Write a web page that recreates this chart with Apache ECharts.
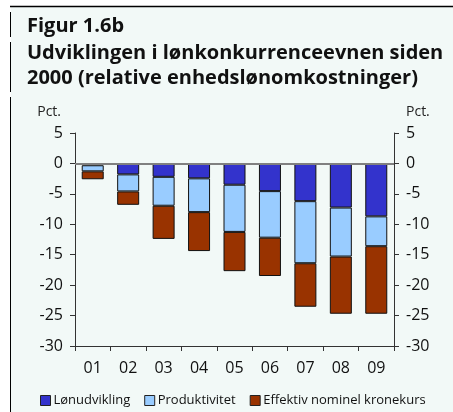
<!DOCTYPE html>
<html>
<head>
<meta charset="utf-8">
<script src="https://cdn.jsdelivr.net/npm/echarts@6/dist/echarts.min.js"></script>
<style>
  html, body { margin: 0; padding: 0; background: #fff; }
  #main { width: 453px; height: 412px; }
</style>
</head>
<body>
<div id="main"></div>
<script>
// years (x axis)
var years = ['01', '02', '03', '04', '05', '06', '07', '08', '09'];
// contributions, pct.
var loenudvikling = [-0.3, -1.8, -2.2, -2.45, -3.5, -4.55, -6.2, -7.25, -8.7];
var produktivitet = [-1.0, -2.8, -4.75, -5.55, -7.75, -7.65, -10.2, -8.05, -4.9];
var kronekurs = [-1.3, -2.2, -5.45, -6.4, -6.45, -6.3, -7.15, -9.4, -11.1];
var yTicks = { min: -30, max: 5, interval: 5 };

var font = '"Open Sans", "Noto Sans", sans-serif';
var chart = echarts.init(document.getElementById('main'));

function yAxis(pos) {
  return {
    type: 'value',
    position: pos,
    min: yTicks.min,
    max: yTicks.max,
    interval: yTicks.interval,
    name: 'Pct.',
    nameLocation: 'end',
    nameGap: 14,
    nameTextStyle: { fontFamily: font, fontSize: 14, color: '#222', align: pos == 'left' ? 'right' : 'left', padding: pos == 'left' ? [0, 14, 0, 0] : [0, 0, 0, 12] },
    axisLine: { show: true, lineStyle: { color: '#333', width: 1 } },
    axisTick: { show: true, length: 5, lineStyle: { color: '#333' } },
    axisLabel: { fontFamily: font, fontSize: 16, color: '#111', margin: 12 },
    splitLine: { show: false }
  };
}

function bar(name, data, color) {
  return {
    name: name,
    type: 'bar',
    stack: 'total',
    data: data,
    barWidth: 22,
    itemStyle: { color: color, borderColor: '#111', borderWidth: 1 }
  };
}

var series = [
  bar('Lønudvikling', loenudvikling, '#3333cc'),
  bar('Produktivitet', produktivitet, '#99ccff'),
  bar('Effektiv nominel kronekurs', kronekurs, '#993300')
];
series[0].markLine = {
  silent: true,
  symbol: 'none',
  label: { show: false },
  lineStyle: { color: '#808080', width: 2, type: 'solid' },
  data: [{ yAxis: 0 }]
};
series[0].z = 3;

chart.setOption({
  animation: false,
  backgroundColor: '#fff',
  graphic: [
    { type: 'rect', shape: { x: 11, y: 7, width: 442, height: 405 }, style: { fill: '#f2f9f7' }, silent: true, z: -10 },
    { type: 'line', shape: { x1: 10, y1: 6.5, x2: 453, y2: 6.5 }, style: { stroke: '#000', lineWidth: 1.5 } },
    { type: 'line', shape: { x1: 10.5, y1: 12, x2: 10.5, y2: 37 }, style: { stroke: '#000', lineWidth: 1 } },
    { type: 'line', shape: { x1: 10.5, y1: 42, x2: 10.5, y2: 92 }, style: { stroke: '#000', lineWidth: 1 } },
    { type: 'line', shape: { x1: 10.5, y1: 97, x2: 10.5, y2: 412 }, style: { stroke: '#000', lineWidth: 1 } }
  ],
  title: [
    { text: 'Figur 1.6b', left: 22, top: 11, textStyle: { fontFamily: font, fontSize: 20, fontWeight: 'bold', color: '#111' } },
    { text: 'Udviklingen i lønkonkurrenceevnen siden\n2000 (relative enhedslønomkostninger)', left: 22, top: 36,
      textStyle: { fontFamily: font, fontSize: 20, fontWeight: 'bold', color: '#111', lineHeight: 25 } }
  ],
  legend: {
    bottom: 5,
    left: 40,
    width: 413,
    padding: 0,
    itemWidth: 10,
    itemHeight: 10,
    itemGap: 14,
    icon: 'rect',
    itemStyle: { borderColor: '#222', borderWidth: 1 },
    textStyle: { fontFamily: font, fontSize: 13, color: '#111', padding: [0, 0, 0, -2] },
    data: ['Lønudvikling', 'Produktivitet', 'Effektiv nominel kronekurs']
  },
  grid: { left: 75, right: 59, top: 133, bottom: 66, containLabel: false },
  xAxis: {
    type: 'category',
    data: years,
    position: 'bottom',
    axisLine: { show: true, onZero: false, lineStyle: { color: '#333' } },
    axisTick: { show: true, length: 5, lineStyle: { color: '#333' } },
    axisLabel: { fontFamily: font, fontSize: 16, color: '#111', margin: 14 }
  },
  yAxis: [yAxis('left'), yAxis('right')],
  series: series
});
</script>
</body>
</html>
